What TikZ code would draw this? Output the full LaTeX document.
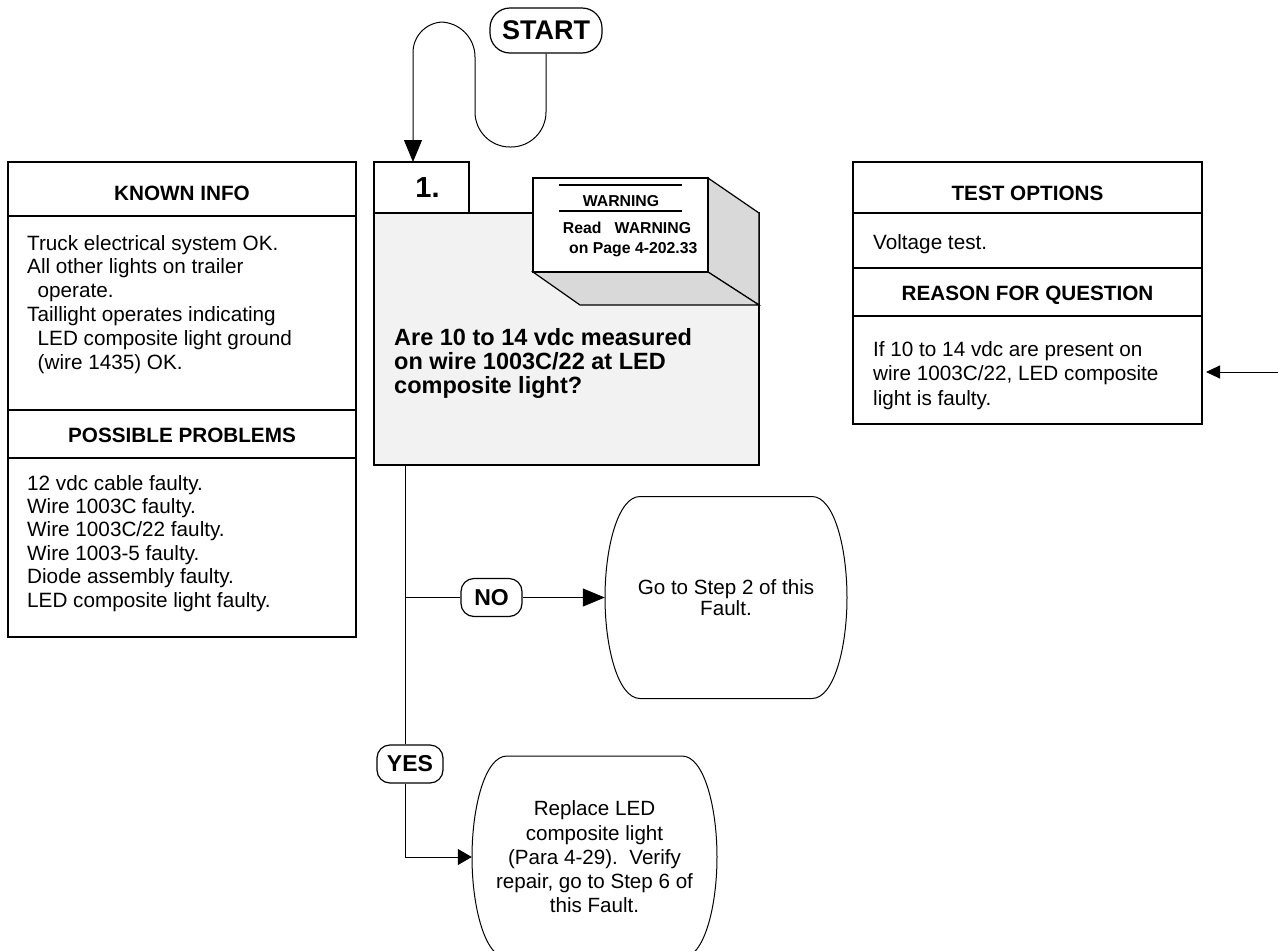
\documentclass[tikz,border=0pt]{standalone}
\usepackage{fontspec}
\setmainfont{Liberation Sans}
\usetikzlibrary{arrows.meta}
\definecolor{stepgray}{RGB}{242,242,242}
\definecolor{facegray}{RGB}{217,217,217}
\newcommand{\leftlines}[1]{\vtop{\halign{##\hfil\cr#1\crcr}}}
\newcommand{\termshape}[3]{%
 \draw[termline] ({#1-#3+35},{#2-101}) -- ({#1+#3-35},{#2-101})
  .. controls ({#1+#3-13},{#2-101}) and ({#1+#3},{#2-50}) .. ({#1+#3},{#2})
  .. controls ({#1+#3},{#2+50}) and ({#1+#3-13},{#2+101}) .. ({#1+#3-35},{#2+101})
  -- ({#1-#3+35},{#2+101})
  .. controls ({#1-#3+13},{#2+101}) and ({#1-#3},{#2+50}) .. ({#1-#3},{#2})
  .. controls ({#1-#3},{#2-50}) and ({#1-#3+13},{#2-101}) .. ({#1-#3+35},{#2-101}) -- cycle;}
\begin{document}
\begin{tikzpicture}[x=1pt,y=-1pt,
  box/.style={draw=black, line width=1.2pt},
  conn/.style={draw=black, line width=1pt},
  termline/.style={draw=black, line width=1pt, fill=white},
  pill/.style={draw=black, line width=1.2pt, rounded corners=13pt, inner sep=0pt, fill=white, font=\bfseries\fontsize{23}{23}\selectfont},
  hdrtext/.style={font=\bfseries\fontsize{20.7}{24}\selectfont, inner sep=0pt, anchor=base},
  bodytext/.style={inner sep=0pt, anchor=base west},
  warn/.style={font=\bfseries\fontsize{15.8}{16}\selectfont, inner sep=0pt},
  term/.style={minimum width=242pt, minimum height=202pt, inner sep=0pt, align=center},
  bigtip/.style={-{Triangle[length=22pt,width=18pt]}},
  smalltip/.style={-{Triangle[length=14pt,width=16pt]}}]
\useasboundingbox[fill=white] (0,0) rectangle (1278,951);

% KNOWN INFO / POSSIBLE PROBLEMS
\draw[box] (8,162) rectangle (356,637);
\draw[box] (8,216) -- (356,216);
\draw[box] (8,410) -- (356,410);
\draw[box] (8,458) -- (356,458);
\node[hdrtext] (kt) at (182,200) {KNOWN INFO};
\node[bodytext, font=\fontsize{20.7}{23.8}\selectfont] (kb) at (27,250) {\leftlines{Truck electrical system OK.\cr All other lights on trailer\cr \hspace*{10.5pt}operate.\cr Taillight operates indicating\cr \hspace*{10.5pt}LED composite light ground\cr \hspace*{10.5pt}(wire 1435) OK.}};
\node[hdrtext] (pt) at (182,442) {POSSIBLE PROBLEMS};
\node[bodytext, font=\fontsize{20.7}{23.4}\selectfont] (pb) at (27,490) {\leftlines{12 vdc cable faulty.\cr Wire 1003C faulty.\cr Wire 1003C/22 faulty.\cr Wire 1003-5 faulty.\cr Diode assembly faulty.\cr LED composite light faulty.}};

% TEST OPTIONS / REASON FOR QUESTION
\draw[box] (853,162) rectangle (1202,424);
\draw[box] (853,213) -- (1202,213);
\draw[box] (853,268) -- (1202,268);
\draw[box] (853,316) -- (1202,316);
\node[hdrtext] (tt) at (1027.5,200) {TEST OPTIONS};
\node[bodytext, font=\fontsize{20.7}{23.8}\selectfont] (tb) at (873,249) {Voltage test.};
\node[hdrtext] (rt) at (1027.5,300) {REASON FOR QUESTION};
\node[bodytext, font=\fontsize{20.7}{24.5}\selectfont] (rb) at (873,356) {\leftlines{If 10 to 14 vdc are present on\cr wire 1003C/22, LED composite\cr light is faulty.}};
\coordinate (rin) at (1278,372);
\coordinate (rtip) at (1206,372);
\draw[conn, -{Triangle[length=14pt,width=13pt]}] (rin) -- (rtip);

% STEP 1
\draw[box, fill=stepgray] (374,213) rectangle (759,465);
\draw[box, fill=facegray] (708,178) -- (759,213) -- (759,305) -- (708,272) -- cycle;
\draw[box, fill=facegray] (533,272) -- (708,272) -- (759,305) -- (580,305) -- cycle;
\draw[box, fill=white] (533,178) rectangle (708,272);
\draw[line width=2pt] (559,185) -- (682,185);
\draw[line width=2pt] (559,211) -- (682,211);
\node[warn, anchor=base] (w1) at (621,206) {WARNING};
\node[warn, anchor=base west] (w2) at (562.7,233) {Read\ \ \ WARNING};
\node[warn, anchor=base west] (w3) at (569,253) {on Page 4-202.33};
\node[box, fill=white, minimum width=95pt, minimum height=51pt, inner sep=0pt, font=\bfseries\fontsize{29}{29}\selectfont] (hdr) at (421.5,187.5) {\hspace*{12pt}1.};
\node[bodytext, font=\bfseries\fontsize{23.5}{24}\selectfont] (q) at (394,345) {\leftlines{Are 10 to 14 vdc measured\cr on wire 1003C/22 at LED\cr composite light?}};

% START and loop
\node[draw=black, line width=1.2pt, rounded corners=20pt, minimum width=112pt, minimum height=45pt, inner sep=0pt, font=\bfseries\fontsize{27}{27}\selectfont] (start) at (546,30.5) {START};
\coordinate (loopend) at (413,162);
\draw[conn, bigtip] (start.south) [rounded corners=35pt] -- (546,147) -- (475,147) -- (475,22) [rounded corners=30.5pt] -- (413,22) -- (loopend);

% Terminals
\termshape{726}{597.5}{121}
\node[term, font=\fontsize{20.6}{21.7}\selectfont] (noT) at (726,597.5) {Go to Step 2 of this\\Fault.};
\termshape{594.5}{857}{122.5}
\node[term, minimum width=245pt, font=\fontsize{20.6}{24.3}\selectfont] (yesT) at (594.5,857) {Replace LED\\composite light\\(Para 4-29).\ \ Verify\\repair, go to Step 6 of\\this Fault.};

% Trunk and branches
\coordinate (trunktop) at (405,465);
\coordinate (nobr) at (405,597.5);
\coordinate (yesbr) at (405,857);
\node[pill, minimum width=61pt, minimum height=38pt] (no) at (491.5,597.5) {NO};
\node[pill, minimum width=66pt, minimum height=38pt] (yes) at (410,764) {YES};
\draw[conn] (trunktop) -- (yes.north -| trunktop);
\draw[conn] (nobr) -- (no.west);
\draw[conn, bigtip] (no.east) -- (noT.west);
\draw[conn, smalltip] (yes.south -| trunktop) -- (yesbr) -- (yesT.west);
\end{tikzpicture}
\end{document}
